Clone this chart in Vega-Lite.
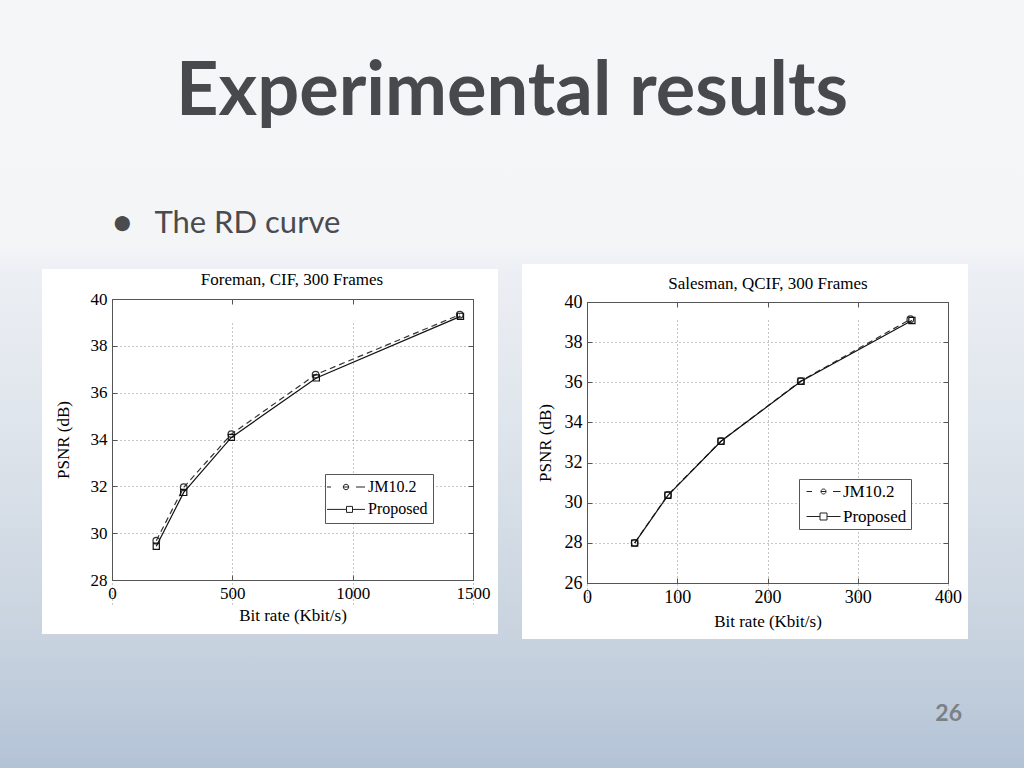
{
  "$schema": "https://vega.github.io/schema/vega-lite/v6.json",
  "padding": 0,
  "background": "#f5f6f8",
  "datasets": {
    "foreman": [
      {"series": "JM10.2", "rate": 184, "psnr": 29.68},
      {"series": "JM10.2", "rate": 298, "psnr": 31.96},
      {"series": "JM10.2", "rate": 496, "psnr": 34.23},
      {"series": "JM10.2", "rate": 846, "psnr": 36.77},
      {"series": "JM10.2", "rate": 1445, "psnr": 39.33},
      {"series": "Proposed", "rate": 184, "psnr": 29.44},
      {"series": "Proposed", "rate": 298, "psnr": 31.74},
      {"series": "Proposed", "rate": 496, "psnr": 34.09},
      {"series": "Proposed", "rate": 849, "psnr": 36.63},
      {"series": "Proposed", "rate": 1448, "psnr": 39.26}
    ],
    "salesman": [
      {"series": "JM10.2", "rate": 52.8, "psnr": 28.0},
      {"series": "JM10.2", "rate": 89.7, "psnr": 30.39},
      {"series": "JM10.2", "rate": 148.5, "psnr": 33.07},
      {"series": "JM10.2", "rate": 236.8, "psnr": 36.06},
      {"series": "JM10.2", "rate": 358.3, "psnr": 39.14},
      {"series": "Proposed", "rate": 52.8, "psnr": 27.99},
      {"series": "Proposed", "rate": 89.7, "psnr": 30.37},
      {"series": "Proposed", "rate": 148.5, "psnr": 33.06},
      {"series": "Proposed", "rate": 237.2, "psnr": 36.05},
      {"series": "Proposed", "rate": 360.0, "psnr": 39.08}
    ]
  },
  "title": {"text": "Experimental results", "anchor": "middle", "offset": -189, "baseline": "alphabetic", "font": "Lato", "fontSize": 74, "fontWeight": "bold", "color": "#48494d"},
  "columns": 1,
  "align": "none",
  "spacing": -560,
  "concat": [
    {
      "width": 1024,
      "height": 768,
      "view": {"fill": "#dfe5ec", "stroke": null},
      "data": {"values": [{}]},
      "mark": {"type": "rect", "color": {"gradient": "linear", "x1": 0, "y1": 0, "x2": 0, "y2": 1, "stops": [
        {"offset": 0, "color": "#f5f6f8"},
        {"offset": 0.32, "color": "#f4f5f7"},
        {"offset": 0.35, "color": "#ecEff4"},
        {"offset": 0.55, "color": "#dfe5ec"},
        {"offset": 0.83, "color": "#c8d3df"},
        {"offset": 1, "color": "#b3c3d6"}
      ]}},
      "encoding": {},
      "title": {"text": "26", "orient": "bottom", "anchor": "end", "offset": -47, "dx": -62, "baseline": "alphabetic", "font": "Lato", "fontSize": 23, "fontWeight": "bold", "color": "#7b8088"}
    },
    {
      "spacing": 24,
      "center": true,
      "resolve": {"scale": {"shape": "independent"}, "legend": {"shape": "independent"}},
      "title": {"text": "●\u00a0\u00a0\u00a0The RD curve", "anchor": "start", "dx": 113, "offset": 0, "baseline": "alphabetic", "font": "Lato", "fontSize": 31, "fontWeight": "normal", "color": "#4b4b4f"},
      "hconcat": [
        {
          "width": 18, "height": 1,
          "data": {"values": [{}]},
          "mark": {"type": "point", "opacity": 0},
          "encoding": {}
        },
        {
          "width": 456, "height": 365,
          "view": {"fill": "white", "stroke": null},
          "data": {"name": "foreman"},
          "title": {"text": "Foreman, CIF, 300 Frames", "frame": "group", "anchor": "middle", "dx": 22, "offset": -33, "baseline": "alphabetic", "font": "Liberation Serif", "fontSize": 17, "fontWeight": "normal", "color": "black"},
          "resolve": {"axis": {"x": "independent", "y": "independent"}},
          "layer": [
            {
              "transform": [{"filter": "datum.series === 'JM10.2'"}],
              "mark": {"type": "line", "color": "#333", "strokeWidth": 1.2, "strokeDash": [6, 4]},
              "encoding": {
                "x": {"field": "rate", "type": "quantitative", "scale": {"domain": [0, 1500], "range": [70, 431], "nice": false, "zero": false},
                  "axis": {"orient": "bottom", "offset": -54, "values": [0, 500, 1000, 1500], "format": "d", "grid": true, "title": "Bit rate (Kbit/s)", "titlePadding": 6, "titleFontSize": 17, "labelFontSize": 17}},
                "y": {"field": "psnr", "type": "quantitative", "scale": {"domain": [28, 40], "range": [311, 30], "nice": false, "zero": false},
                  "axis": {"orient": "left", "offset": -70, "values": [28, 30, 32, 34, 36, 38, 40], "format": "d", "grid": true, "title": "PSNR (dB)", "titlePadding": 18, "titleFontSize": 17, "labelFontSize": 17}}
              }
            },
            {
              "transform": [{"filter": "datum.series === 'JM10.2'"}],
              "mark": {"type": "point", "shape": "circle", "filled": false, "color": "#333", "size": 44, "strokeWidth": 1.2, "opacity": 1},
              "encoding": {
                "x": {"field": "rate", "type": "quantitative", "scale": {"domain": [0, 1500], "range": [70, 431], "nice": false, "zero": false}, "axis": null},
                "y": {"field": "psnr", "type": "quantitative", "scale": {"domain": [28, 40], "range": [311, 30], "nice": false, "zero": false}, "axis": null}
              }
            },
            {
              "transform": [{"filter": "datum.series === 'Proposed'"}],
              "mark": {"type": "line", "color": "#111", "strokeWidth": 1.2},
              "encoding": {
                "x": {"field": "rate", "type": "quantitative", "scale": {"domain": [0, 1500], "range": [70, 431], "nice": false, "zero": false},
                  "axis": {"orient": "top", "offset": -30, "values": [0, 500, 1000, 1500], "labels": false, "title": null, "grid": false}},
                "y": {"field": "psnr", "type": "quantitative", "scale": {"domain": [28, 40], "range": [311, 30], "nice": false, "zero": false},
                  "axis": {"orient": "right", "offset": -25, "values": [28, 30, 32, 34, 36, 38, 40], "labels": false, "title": null, "grid": false}}
              }
            },
            {
              "transform": [{"filter": "datum.series === 'Proposed'"}],
              "mark": {"type": "point", "shape": "square", "filled": false, "color": "#111", "size": 38, "strokeWidth": 1.2, "opacity": 1},
              "encoding": {
                "x": {"field": "rate", "type": "quantitative", "scale": {"domain": [0, 1500], "range": [70, 431], "nice": false, "zero": false}, "axis": null},
                "y": {"field": "psnr", "type": "quantitative", "scale": {"domain": [28, 40], "range": [311, 30], "nice": false, "zero": false}, "axis": null}
              }
            },
            {
              "mark": {"type": "point", "opacity": 0},
              "encoding": {
                "x": {"field": "rate", "type": "quantitative", "scale": {"domain": [0, 1500], "range": [70, 431], "nice": false, "zero": false}, "axis": null},
                "y": {"field": "psnr", "type": "quantitative", "scale": {"domain": [28, 40], "range": [311, 30], "nice": false, "zero": false}, "axis": null},
                "shape": {"field": "series", "type": "nominal",
                  "scale": {"domain": ["JM10.2", "Proposed"], "range": [
                    "M-3.8,0H-3M2,0H3.8M0.54,0A0.54,0.54,0,1,1,-0.54,0A0.54,0.54,0,1,1,0.54,0M-0.54,0H0.54",
                    "M-3.8,0H0.1M1.3,0H3.8M0.1,-0.6H1.3V0.6H0.1Z"
                  ]},
                  "legend": {"title": null, "orient": "none", "legendX": 283, "legendY": 205, "direction": "vertical",
                    "symbolSize": 100, "symbolStrokeWidth": 1, "symbolStrokeColor": "#222", "symbolFillColor": "transparent", "symbolOpacity": 1,
                    "symbolOffset": 8, "labelOffset": 14, "labelFont": "Liberation Serif", "labelFontSize": 16, "labelColor": "black",
                    "rowPadding": 6.4, "padding": 5, "strokeColor": "#555", "fillColor": "white"}}
              }
            }
          ]
        },
        {
          "width": 446, "height": 375,
          "view": {"fill": "white", "stroke": null},
          "data": {"name": "salesman"},
          "title": {"text": "Salesman, QCIF, 300 Frames", "frame": "group", "anchor": "middle", "dx": 23, "offset": -42, "baseline": "alphabetic", "font": "Liberation Serif", "fontSize": 17, "fontWeight": "normal", "color": "black"},
          "resolve": {"axis": {"x": "independent", "y": "independent"}},
          "layer": [
            {
              "transform": [{"filter": "datum.series === 'JM10.2'"}],
              "mark": {"type": "line", "color": "#333", "strokeWidth": 1.2, "strokeDash": [6, 4]},
              "encoding": {
                "x": {"field": "rate", "type": "quantitative", "scale": {"domain": [0, 400], "range": [65, 426], "nice": false, "zero": false},
                  "axis": {"orient": "bottom", "offset": -56, "values": [0, 100, 200, 300, 400], "format": "d", "grid": true, "title": "Bit rate (Kbit/s)", "titlePadding": 7, "labelFontSize": 18, "titleFontSize": 17}},
                "y": {"field": "psnr", "type": "quantitative", "scale": {"domain": [26, 40], "range": [319, 38], "nice": false, "zero": false},
                  "axis": {"orient": "left", "offset": -65, "values": [26, 28, 30, 32, 34, 36, 38, 40], "format": "d", "grid": true, "title": "PSNR (dB)", "titlePadding": 10, "labelFontSize": 18, "titleFontSize": 17}}
              }
            },
            {
              "transform": [{"filter": "datum.series === 'JM10.2'"}],
              "mark": {"type": "point", "shape": "circle", "filled": false, "color": "#333", "size": 44, "strokeWidth": 1.2, "opacity": 1},
              "encoding": {
                "x": {"field": "rate", "type": "quantitative", "scale": {"domain": [0, 400], "range": [65, 426], "nice": false, "zero": false}, "axis": null},
                "y": {"field": "psnr", "type": "quantitative", "scale": {"domain": [26, 40], "range": [319, 38], "nice": false, "zero": false}, "axis": null}
              }
            },
            {
              "transform": [{"filter": "datum.series === 'Proposed'"}],
              "mark": {"type": "line", "color": "#111", "strokeWidth": 1.2},
              "encoding": {
                "x": {"field": "rate", "type": "quantitative", "scale": {"domain": [0, 400], "range": [65, 426], "nice": false, "zero": false},
                  "axis": {"orient": "top", "offset": -38, "values": [0, 100, 200, 300, 400], "labels": false, "title": null, "grid": false}},
                "y": {"field": "psnr", "type": "quantitative", "scale": {"domain": [26, 40], "range": [319, 38], "nice": false, "zero": false},
                  "axis": {"orient": "right", "offset": -20, "values": [26, 28, 30, 32, 34, 36, 38, 40], "labels": false, "title": null, "grid": false}}
              }
            },
            {
              "transform": [{"filter": "datum.series === 'Proposed'"}],
              "mark": {"type": "point", "shape": "square", "filled": false, "color": "#111", "size": 38, "strokeWidth": 1.2, "opacity": 1},
              "encoding": {
                "x": {"field": "rate", "type": "quantitative", "scale": {"domain": [0, 400], "range": [65, 426], "nice": false, "zero": false}, "axis": null},
                "y": {"field": "psnr", "type": "quantitative", "scale": {"domain": [26, 40], "range": [319, 38], "nice": false, "zero": false}, "axis": null}
              }
            },
            {
              "mark": {"type": "point", "opacity": 0},
              "encoding": {
                "x": {"field": "rate", "type": "quantitative", "scale": {"domain": [0, 400], "range": [65, 426], "nice": false, "zero": false}, "axis": null},
                "y": {"field": "psnr", "type": "quantitative", "scale": {"domain": [26, 40], "range": [319, 38], "nice": false, "zero": false}, "axis": null},
                "shape": {"field": "series", "type": "nominal",
                  "scale": {"domain": ["JM10.2", "Proposed"], "range": [
                    "M-3.4,0H-2.3M1.9,0H3.4M0.5,0A0.5,0.5,0,1,1,-0.5,0A0.5,0.5,0,1,1,0.5,0M-0.5,0H0.5",
                    "M-3.4,0H-0.7M0.7,0H3.4M-0.7,-0.7H0.7V0.7H-0.7Z"
                  ]},
                  "legend": {"title": null, "orient": "none", "legendX": 277, "legendY": 215, "direction": "vertical",
                    "symbolSize": 100, "symbolStrokeWidth": 1, "symbolStrokeColor": "#222", "symbolFillColor": "transparent", "symbolOpacity": 1,
                    "symbolOffset": 12, "labelOffset": 11, "labelFont": "Liberation Serif", "labelFontSize": 17, "labelColor": "black",
                    "rowPadding": 7, "padding": 4, "strokeColor": "#555", "fillColor": "white"}}
              }
            }
          ]
        }
      ]
    }
  ],
  "config": {
    "view": {"stroke": null},
    "axis": {
      "domainColor": "#555", "domainWidth": 1, "tickColor": "#555", "tickWidth": 1, "tickSize": -5,
      "labelPadding": 10, "labelFont": "Liberation Serif", "labelFontSize": 16, "labelColor": "black",
      "titleFont": "Liberation Serif", "titleFontSize": 16, "titleFontWeight": "normal", "titleColor": "black",
      "gridColor": "#8c8c8c", "gridDash": [1, 3], "gridOpacity": 1, "gridWidth": 1,
      "labelFlush": false, "labelOverlap": false
    }
  }
}
